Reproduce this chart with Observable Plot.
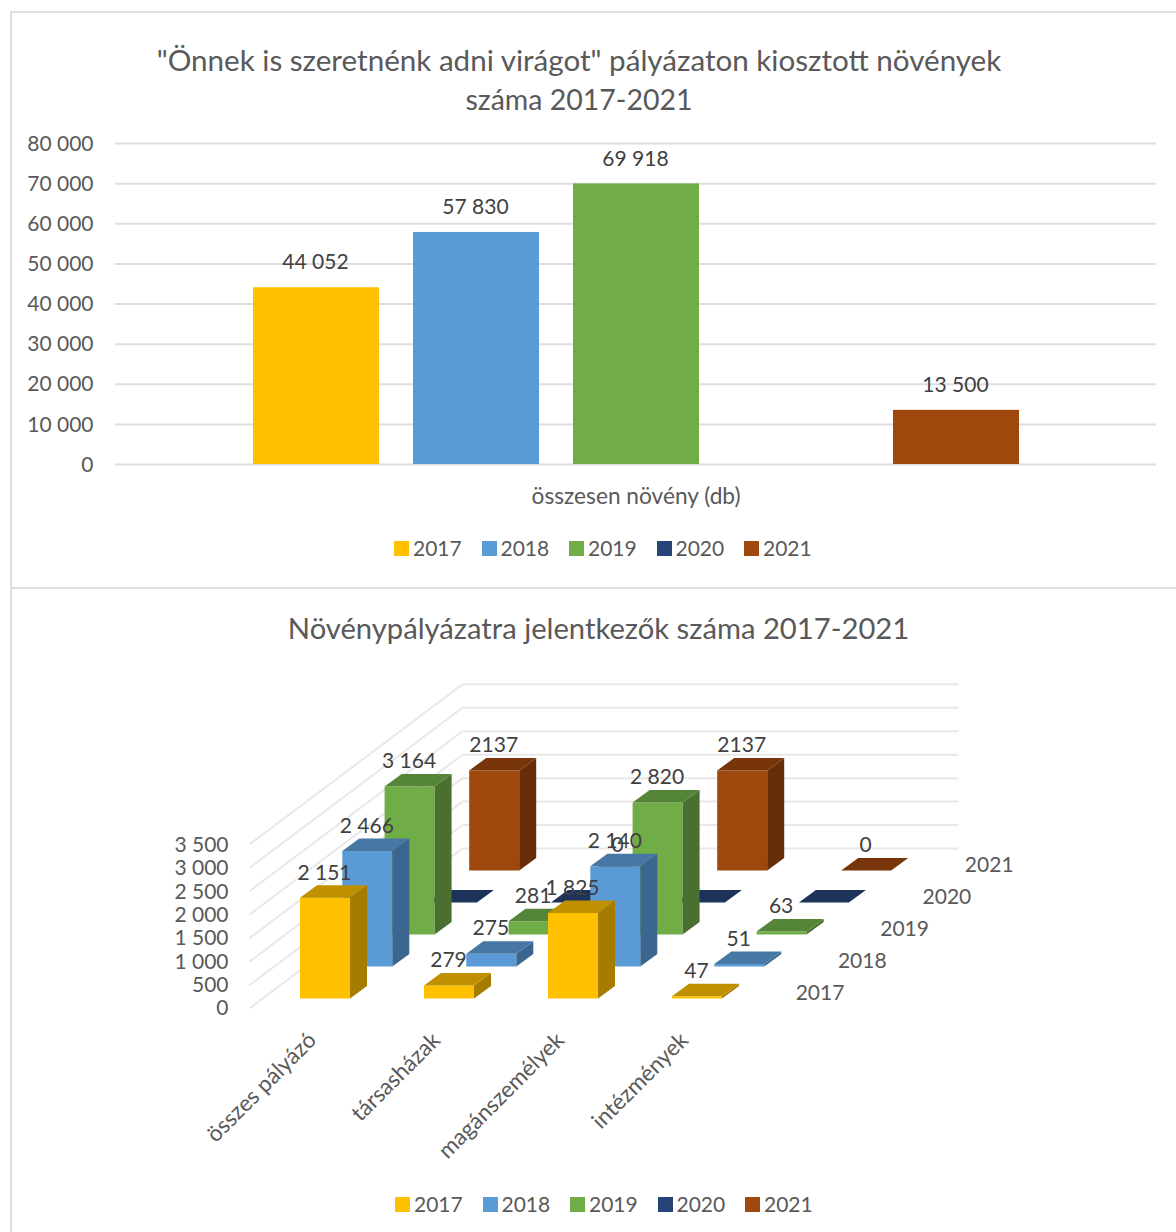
<!DOCTYPE html>
<html lang="hu">
<head>
<meta charset="utf-8">
<script src="https://cdn.jsdelivr.net/npm/d3@7"></script>
<script src="https://cdn.jsdelivr.net/npm/@observablehq/plot@0.6"></script>
<style>
html,body{margin:0;padding:0;background:#fff}
#page{position:relative;width:1176px;height:1232px;overflow:hidden;font-family:Lato,"Open Sans",sans-serif;color:#595959;background:#fff}
.rule{position:absolute;background:#dedede}
.title{position:absolute;text-align:center;font-size:28.5px;line-height:39px;white-space:nowrap;font-weight:400;margin:0}
.title b{font-weight:400;font-size:29.6px}
.legend{position:absolute;display:flex;font-size:21px;line-height:24px}
.legend span.item{display:flex;align-items:center;width:87.5px}
.legend i{display:block;width:15px;height:15px;margin-right:4px}
#page svg{position:absolute;left:0;background:transparent;overflow:visible}
</style>
</head>
<body>
<div id="page">
  <div class="rule" style="left:10px;top:11px;width:1166px;height:2px"></div>
  <div class="rule" style="left:10px;top:11px;width:2px;height:1221px"></div>
  <div class="rule" style="left:10px;top:587px;width:1166px;height:2px"></div>
  <h2 class="title" style="left:0;width:1158px;top:40px"><b>"Önnek is szeretnénk adni virágot" pályázaton kiosztott növények</b><br>száma 2017-2021</h2>
  <h2 class="title" style="left:0;width:1197px;top:608px;font-size:29.2px">Növénypályázatra jelentkezők száma 2017-2021</h2>
</div>
<script>
const years = ["2017", "2018", "2019", "2020", "2021"];
const colors = ["#FFC000", "#5B9BD5", "#70AD47", "#264478", "#9E480E"];
const topFaces = ["#BF9000", "#4778A5", "#558539", "#1D335A", "#78350A"];
const sideFaces = ["#A67C00", "#3A668F", "#4A702F", "#182B4C", "#672F09"];

// Chart 1
const plantTotals = [44052, 57830, 69918, null, 13500];
const plantCategory = "összesen növény (db)";
const plantTicks = [0, 10000, 20000, 30000, 40000, 50000, 60000, 70000, 80000];

// Chart 2
const categories = ["összes pályázó", "társasházak", "magánszemélyek", "intézmények"];
const applicants2017 = [2151, 279, 1825, 47];
const applicants2018 = [2466, 275, 2140, 51];
const applicants2019 = [3164, 281, 2820, 63];
const applicants2020 = [0, 0, 0, 0];
const applicants2021 = [2137, 0, 2137, 0];
const applicantSeries = [applicants2017, applicants2018, applicants2019, applicants2020, applicants2021];
const labelledSeries = [true, true, true, false, true];
const applicantTicks = [0, 500, 1000, 1500, 2000, 2500, 3000, 3500];

const spaced = d3.formatLocale({thousands: " ", grouping: [3], decimal: ","}).format(",");
const page = document.getElementById("page");
const FONT = "Lato, 'Open Sans', sans-serif";

function addLegend(left, top) {
  const el = document.createElement("div");
  el.className = "legend";
  el.style.left = left + "px";
  el.style.top = top + "px";
  years.forEach((y, i) => {
    const item = document.createElement("span");
    item.className = "item";
    const sw = document.createElement("i");
    sw.style.background = colors[i];
    item.appendChild(sw);
    item.appendChild(document.createTextNode(y));
    el.appendChild(item);
  });
  page.appendChild(el);
}

// ---------- Chart 1 ----------
const plantRows = years.map((year, i) => ({year, value: plantTotals[i], color: colors[i]})).filter(d => d.value != null);
const chart1 = Plot.plot({
  width: 1176, height: 400,
  marginLeft: 115, marginRight: 20, marginTop: 23, marginBottom: 56,
  style: {fontFamily: FONT, fontSize: "21px", color: "#595959", background: "transparent"},
  x: {type: "band", domain: years, range: [253, 1019], paddingInner: 0.2125, paddingOuter: 0, align: 0, axis: null, round: false},
  y: {domain: [0, 80000], axis: null},
  color: {type: "identity"},
  marks: [
    Plot.ruleY(plantTicks, {stroke: "#dedede", strokeWidth: 2}),
    Plot.barY(plantRows, {x: "year", y: "value", fill: "color"}),
    Plot.axisY({ticks: plantTicks, tickSize: 0, tickPadding: 22, tickFormat: spaced, label: null, fontSize: 21, fill: "#595959", dy: 0.5}),
    Plot.text(plantRows, {x: "year", y: "value", text: d => spaced(d.value), dy: -25, dx: -1, fontSize: 21, fill: "#404040", lineAnchor: "middle"}),
    Plot.text([plantCategory], {frameAnchor: "bottom", dy: 32, fontSize: 22.7, fill: "#595959", lineAnchor: "middle"})
  ]
});
chart1.style.top = "120px";
page.appendChild(chart1);
addLegend(394, 536);

// ---------- Chart 2 (oblique projection of the data) ----------
const TOP = 660, H = 530, K = 0.0468;
const px = (c, s) => 299.5 + c * 124 + s * 42.3;
const py = (s, v) => 998 - TOP - s * 32 - v * K;
const BAR = 50, DX = 17, DY = -12.5;

const faces = [];
function face(id, color, pts) { pts.forEach(([x, y]) => faces.push({id, color, x, y})); }
for (let s = years.length - 1; s >= 0; s--) {
  categories.forEach((cat, c) => {
    const v = applicantSeries[s][c];
    const x0 = px(c, s), x1 = x0 + BAR, yb = py(s, 0), yt = py(s, v);
    const id = s + "-" + c;
    face(id + "f", colors[s], [[x0, yb], [x1, yb], [x1, yt], [x0, yt]]);
    face(id + "s", sideFaces[s], [[x1, yb], [x1 + DX, yb + DY], [x1 + DX, yt + DY], [x1, yt]]);
    face(id + "t", topFaces[s], [[x0, yt], [x1, yt], [x1 + DX, yt + DY], [x0 + DX, yt + DY]]);
  });
}
const barLabels = [];
applicantSeries.forEach((vals, s) => {
  if (!labelledSeries[s]) return;
  vals.forEach((v, c) => barLabels.push({
    x: px(c, s) + BAR / 2 - 0.5,
    y: py(s, v) - 25,
    text: years[s] === "2021" ? String(v) : spaced(v)
  }));
});
const yearLabels = years.map((y, s) => ({x: px(3, s) + 148, y: py(s, 0) - 5, text: y}));
const catLabels = categories.map((text, c) => ({x: px(c, 0) + 12.5, y: py(0, 0) + 38, text}));

const WALL_L = 249, WALL_B = 462, WALL_R = 958, WALL_FY = 1008 - TOP, WALL_BY = 848 - TOP, WK = 0.0469;
const wallRows = applicantTicks.map(v => ({v, fy: WALL_FY - v * WK, by: WALL_BY - v * WK}));

const chart2 = Plot.plot({
  width: 1176, height: H, margin: 0,
  style: {fontFamily: FONT, fontSize: "21px", color: "#595959", background: "transparent"},
  x: {type: "identity", axis: null},
  y: {type: "identity", axis: null},
  color: {type: "identity"},
  marks: [
    Plot.link(wallRows, {x1: () => WALL_L, y1: "fy", x2: () => WALL_B, y2: "by", stroke: "#e8e8e8", strokeWidth: 2}),
    Plot.link(wallRows, {x1: () => WALL_B, y1: "by", x2: () => WALL_R, y2: "by", stroke: "#e8e8e8", strokeWidth: 2}),
    Plot.line(faces, {x: "x", y: "y", z: "id", fill: "color", stroke: null, curve: "linear"}),
    Plot.text(wallRows, {x: () => 228, y: d => WALL_FY - d.v * 0.0466, text: d => spaced(d.v), textAnchor: "end", fontSize: 21, fill: "#595959", lineAnchor: "middle"}),
    Plot.text(barLabels, {x: "x", y: "y", text: "text", fontSize: 21, fill: "#404040", lineAnchor: "middle"}),
    Plot.text(yearLabels, {x: "x", y: "y", text: "text", fontSize: 21, fill: "#595959", lineAnchor: "middle"}),
    Plot.text(catLabels, {x: "x", y: "y", text: "text", rotate: -45, textAnchor: "end", fontSize: 22.5, fill: "#595959", lineAnchor: "middle"})
  ]
});
chart2.style.top = TOP + "px";
page.appendChild(chart2);
addLegend(395, 1192);
</script>
</body>
</html>
